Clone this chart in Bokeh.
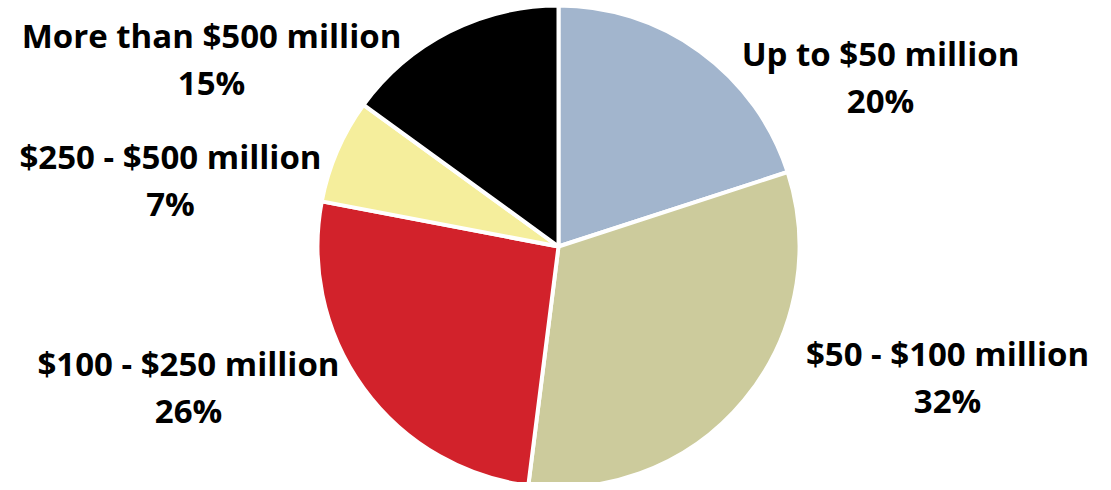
import numpy as np
from bokeh.plotting import figure
from bokeh.models import Range1d, ColumnDataSource
from bokeh.core.properties import value
from bokeh.embed import file_html
from bokeh.resources import INLINE

# Data
categories = ["Up to $50 million", "$50 - $100 million", "$100 - $250 million",
              "$250 - $500 million", "More than $500 million"]
shares = [20, 32, 26, 7, 15]
colors = ["#a2b5cd", "#cccb9c", "#d2222b", "#f5ee9c", "#000000"]

W, H = 1095, 482
p = figure(width=W, height=H, output_backend="svg", toolbar_location=None,
           x_range=Range1d(0, W), y_range=Range1d(490 - H, 490),
           min_border=0)
p.axis.visible = False
p.grid.visible = False
p.outline_line_color = None
p.background_fill_color = "white"

cx, cy, r = 558, 490 - 246, 241
vals = np.array(shares, dtype=float)
frac = vals / vals.sum()
ends = np.cumsum(frac) * 2 * np.pi
starts = ends - frac * 2 * np.pi
start_angle = np.pi / 2 - starts
end_angle = np.pi / 2 - ends

src = ColumnDataSource(dict(x=[cx] * len(vals), y=[cy] * len(vals),
                            start=start_angle, end=end_angle, color=colors))
p.wedge(x="x", y="y", radius=r, start_angle="start", end_angle="end",
        direction="clock", fill_color="color", line_color="white", line_width=4,
        source=src)

# label layout (screen positions of label centers)
label_x = [880, 947, 188, 170, 211]
label_y1 = [53, 353, 363, 156, 35]
gap = 47
texts1 = categories
texts2 = [f"{int(v)}%" for v in shares]
ys1 = [490 - y for y in label_y1]
ys2 = [490 - y - gap for y in label_y1]

for xs, ys, tx in [(label_x, ys1, texts1), (label_x, ys2, texts2)]:
    p.text(x=xs, y=ys, text=tx, text_align="center", text_baseline="middle",
           text_font=value("Open Sans"), text_font_style="bold",
           text_font_size="33px", text_color="black")

open("out.html", "w").write(file_html(p, INLINE))
